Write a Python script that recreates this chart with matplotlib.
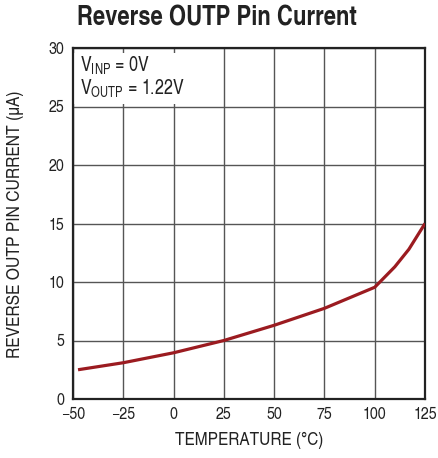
import matplotlib
matplotlib.use("Agg")
import matplotlib.pyplot as plt
from matplotlib.patches import Rectangle

temps = [-47.5, -25, 0, 25, 50, 75, 100, 110, 117, 125]
current = [2.5, 3.1, 3.95, 5.0, 6.3, 7.75, 9.55, 11.3, 12.8, 15.0]
xticks = [-50, -25, 0, 25, 50, 75, 100, 125]
xticklabels = ["\u221250", "\u221225", "0", "25", "50", "75", "100", "125"]
yticks = [0, 5, 10, 15, 20, 25, 30]

FAM = ["TeX Gyre Heros Cn", "DejaVu Sans"]
plt.rcParams["font.family"] = FAM
plt.rcParams["mathtext.fontset"] = "custom"
plt.rcParams["mathtext.rm"] = "TeX Gyre Heros Cn"
plt.rcParams["mathtext.it"] = "TeX Gyre Heros Cn"

TXT = "#222222"
fig = plt.figure(figsize=(4.38, 4.58), dpi=100)
ax = fig.add_axes([73/438, 1-399/458, 352/438, 351/458])
ax.set_xlim(-50, 125)
ax.set_ylim(0, 30)
ax.set_xticks(xticks)
ax.set_xticklabels(xticklabels)
ax.set_yticks(yticks)
ax.tick_params(length=0, labelsize=12.5, pad=6, colors=TXT)
ax.grid(True, color="#555555", linewidth=1.0)
ax.set_axisbelow(True)
for s in ax.spines.values():
    s.set_linewidth(1.6)
    s.set_color(TXT)

ax.add_patch(Rectangle((-49.5, 25.25), 72.5, 4.35, facecolor="white",
                       edgecolor="none", zorder=1.5))
t1 = ax.text(-46.5, 28.45, r"V$_{\mathrm{INP}}$ = 0V", fontsize=12.5, va="center",
             ha="left", color=TXT, zorder=3)
t2 = ax.text(-46.5, 26.55, r"V$_{\mathrm{OUTP}}$ = 1.22V", fontsize=12.5, va="center",
             ha="left", color=TXT, zorder=3)

ax.plot(temps, current, color="#9b1b20", linewidth=2.3, zorder=4,
        solid_capstyle="butt")

xl = fig.text(249/438, 1-440/458, "TEMPERATURE (\u00b0C)", fontsize=12,
              color=TXT, ha="center", va="center")
yl = fig.text(16/438, 1-224/458, "REVERSE OUTP PIN CURRENT (\u00b5A)", fontsize=12,
              color=TXT, ha="center", va="center", rotation=90)
tt = fig.text(217/438, 1-18/458, "Reverse OUTP Pin Current", fontsize=17.5,
              fontweight="bold", ha="center", va="center", color=TXT)

# fit font sizes to the measured extents of the reference
fig.canvas.draw()
r = fig.canvas.get_renderer()
def fit(t, target, horiz=True, cap=None):
    bb = t.get_window_extent(r)
    cur = bb.width if horiz else bb.height
    fs = t.get_fontsize() * target / cur
    if cap is not None:
        fs = min(fs, cap)
    t.set_fontsize(fs)
fit(xl, 148)
fit(yl, 267, horiz=False, cap=14.5)
fit(tt, 280)
fit(t2, 105)
t1.set_fontsize(t2.get_fontsize())

fig.savefig("out.png", dpi=100)
